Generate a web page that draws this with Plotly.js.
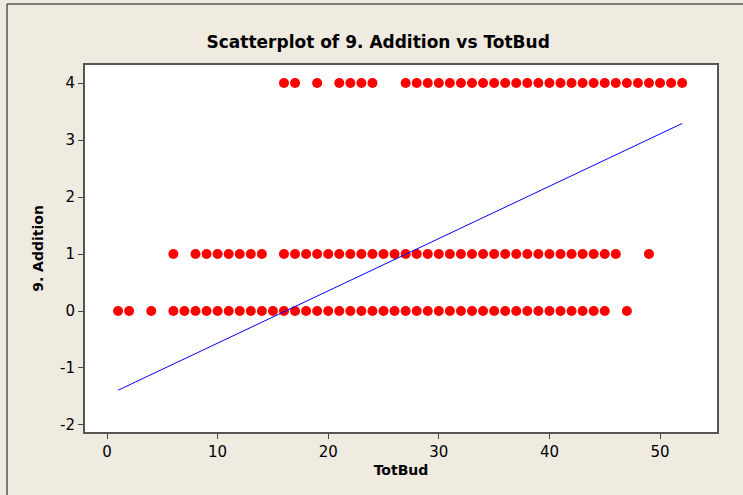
<!DOCTYPE html>
<html>
<head>
<meta charset="utf-8">
<script src="https://cdn.plot.ly/plotly-3.0.1.min.js"></script>
<style>
html,body{margin:0;padding:0;background:#EFEBE1;}
#chart{width:743px;height:495px;}
</style>
</head>
<body>
<div id="chart"></div>
<script>
// Data
const totBudAdd4 = [16,17,19,21,22,23,24,27,28,29,30,31,32,33,34,35,36,37,38,39,40,41,42,43,44,45,46,47,48,49,50,51,52];
const totBudAdd1 = [6,8,9,10,11,12,13,14,16,17,18,19,20,21,22,23,24,25,26,27,28,29,30,31,32,33,34,35,36,37,38,39,40,41,42,43,44,45,46,49];
const totBudAdd0 = [1,2,4,6,7,8,9,10,11,12,13,14,15,16,17,18,19,20,21,22,23,24,25,26,27,28,29,30,31,32,33,34,35,36,37,38,39,40,41,42,43,44,45,47];
const levelValues = [4, 1, 0];
const fitX = [1, 52];
const fitY = [-1.39, 3.29];
const xTicks = [0, 10, 20, 30, 40, 50];
const yTicks = [-2, -1, 0, 1, 2, 3, 4];

const xs = [].concat(totBudAdd4, totBudAdd1, totBudAdd0);
const ys = [].concat(
  totBudAdd4.map(() => levelValues[0]),
  totBudAdd1.map(() => levelValues[1]),
  totBudAdd0.map(() => levelValues[2])
);

const FONT = "DejaVu Sans, sans-serif";
const traces = [
  {x: xs, y: ys, type: 'scatter', mode: 'markers',
   marker: {color: '#FF0000', size: 10, line: {width: 0}}, hoverinfo: 'x+y', showlegend: false},
  {x: fitX, y: fitY, type: 'scatter', mode: 'lines',
   line: {color: '#0000FF', width: 1}, showlegend: false}
];

const layout = {
  width: 743, height: 495,
  paper_bgcolor: '#EFEBE1', plot_bgcolor: '#FFFFFF',
  margin: {l: 85, r: 26, t: 65, b: 63},
  title: {text: '<b>Scatterplot of 9. Addition vs TotBud</b>', x: 0.509, xanchor: 'center', y: 0.915, yanchor: 'middle',
          font: {family: FONT, size: 17, color: '#000'}},
  xaxis: {range: [-1.99, 55.15], tickvals: xTicks, ticktext: xTicks.map(String),
          ticks: 'outside', ticklen: 5, tickcolor: '#444', tickwidth: 1,
          showline: true, linecolor: '#555', linewidth: 2, mirror: true,
          showgrid: false, zeroline: false,
          tickfont: {family: FONT, size: 15, color: '#000'},
          title: {text: '<b>TotBud</b>', font: {family: FONT, size: 14, color: '#000'}, standoff: 5}},
  yaxis: {range: [-2.123, 4.316], tickvals: yTicks, ticktext: yTicks.map(String),
          ticks: 'outside', ticklen: 5, tickcolor: '#444', tickwidth: 1,
          showline: true, linecolor: '#555', linewidth: 2, mirror: true,
          showgrid: false, zeroline: false,
          tickfont: {family: FONT, size: 15, color: '#000'},
          title: {text: '<b>9. Addition</b>', font: {family: FONT, size: 14, color: '#000'}, standoff: 13}},
  shapes: [
    {type: 'line', xref: 'paper', yref: 'paper', x0: (7-85)/632, x1: (7-85)/632, y0: (432-4)/367, y1: (432-500)/367,
     line: {color: '#555', width: 1.5}},
    {type: 'line', xref: 'paper', yref: 'paper', x0: (7-85)/632, x1: (750-85)/632, y0: (432-4)/367, y1: (432-4)/367,
     line: {color: '#555', width: 1.5}}
  ]
};

Plotly.newPlot('chart', traces, layout, {displayModeBar: false, staticPlot: true});
</script>
</body>
</html>
